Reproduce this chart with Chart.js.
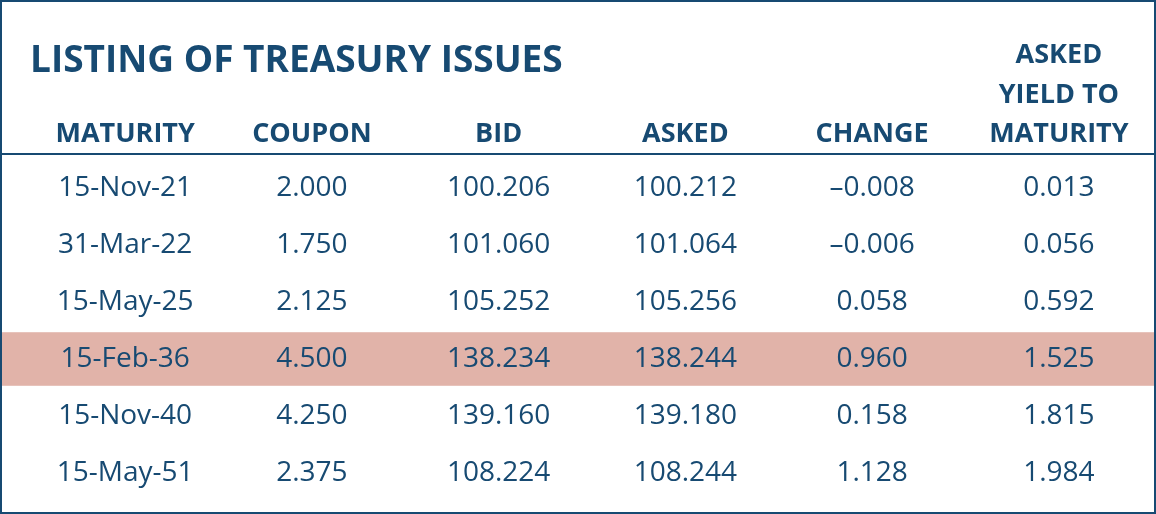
<!DOCTYPE html>
<html><head><meta charset="utf-8">
<script src="https://cdn.jsdelivr.net/npm/chart.js@4"></script>
<style>
html,body{margin:0;padding:0;background:#fff;}
#wrap{position:absolute;left:0;top:0;width:1156px;height:514px;}
</style></head><body>
<div id="wrap"><canvas id="c"></canvas></div>
<script>
const title = 'LISTING OF TREASURY ISSUES';
const headers = [['MATURITY'], ['COUPON'], ['BID'], ['ASKED'], ['CHANGE'], ['ASKED', 'YIELD TO', 'MATURITY']];
const maturity = ['15-Nov-21', '31-Mar-22', '15-May-25', '15-Feb-36', '15-Nov-40', '15-May-51'];
const coupon = ['2.000', '1.750', '2.125', '4.500', '4.250', '2.375'];
const bid = ['100.206', '101.060', '105.252', '138.234', '139.160', '108.224'];
const asked = ['100.212', '101.064', '105.256', '138.244', '139.180', '108.244'];
const change = ['\u20130.008', '\u20130.006', '0.058', '0.960', '0.158', '1.128'];
const yieldToMat = ['0.013', '0.056', '0.592', '1.525', '1.815', '1.984'];
const highlightRow = 3;

const columns = [maturity, coupon, bid, asked, change, yieldToMat];
const INK = '#174a72';

// ── table drawn on the chart scales ──
const tablePlugin = {
    id: 'table',
    beforeDatasetsDraw(chart) {
        const { ctx, scales: { x, y } } = chart;
        ctx.save();
        // highlighted row
        ctx.fillStyle = '#e1b3a9';
        const top = y.getPixelForValue(highlightRow - 0.47);
        const bot = y.getPixelForValue(highlightRow + 0.47);
        ctx.fillRect(0, top, chart.width, bot - top);
        // header rule
        ctx.strokeStyle = INK; ctx.lineWidth = 2;
        const ly = Math.round(y.getPixelForValue(-0.6));
        ctx.beginPath(); ctx.moveTo(0, ly); ctx.lineTo(chart.width, ly); ctx.stroke();
        // outer border
        ctx.strokeRect(1, 1, chart.width - 2, chart.height - 2);
        ctx.fillStyle = INK;
        // title
        ctx.font = 'bold 37px "Open Sans"';
        ctx.textAlign = 'left'; ctx.textBaseline = 'alphabetic';
        ctx.fillText(title, 30, y.getPixelForValue(-2.03));
        // headers
        ctx.font = 'bold 27px "Open Sans"';
        ctx.textAlign = 'center';
        headers.forEach((lines, c) => {
            lines.forEach((t, i) => {
                const row = -0.8 - (lines.length - 1 - i) * 0.7;
                ctx.fillText(t, x.getPixelForValue(c), y.getPixelForValue(row));
            });
        });
        // cells
        ctx.font = '28px "Open Sans"';
        ctx.textBaseline = 'middle';
        columns.forEach((col, c) => {
            col.forEach((t, r) => ctx.fillText(t, x.getPixelForValue(c), y.getPixelForValue(r)));
        });
        ctx.restore();
    }
};

new Chart(document.getElementById('c'), {
    type: 'scatter',
    data: { datasets: [{ data: [], showLine: false }] },
    options: {
        responsive: true, maintainAspectRatio: false, animation: false,
        layout: { padding: 0 },
        plugins: { legend: { display: false }, tooltip: { enabled: false } },
        scales: {
            x: { type: 'linear', display: false, min: -0.67, max: 5.52 },
            y: { type: 'linear', display: false, reverse: true, min: -3.3, max: 5.72 }
        }
    },
    plugins: [tablePlugin]
});
</script>
</body></html>
